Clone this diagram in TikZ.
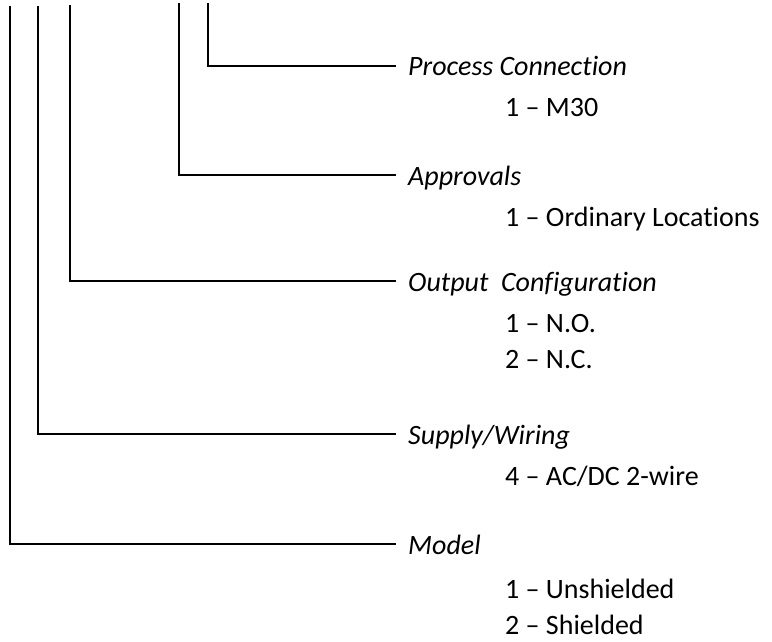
\documentclass[tikz,border=0pt]{standalone}
\usepackage{fontspec}
\setmainfont{Carlito}[Ligatures=NoCommon]
\begin{document}
\begin{tikzpicture}[x=1pt,y=-1pt,
  lead/.style={line width=1.6pt},
  head/.style={anchor=west, inner xsep=12pt, inner ysep=0pt,
    text height=20pt, text depth=0pt,
    font=\fontsize{28}{34}\selectfont\itshape},
  opt/.style={anchor=base west, inner sep=0pt,
    font=\fontsize{28}{34}\selectfont}]
\useasboundingbox (0,0) rectangle (772,642);

% header labels (west anchor sits on the leader line)
\node[head] (pc) at (396,66)  {Process Connection};
\node[head] (ap) at (396,175) {Approvals};
\node[head] (oc) at (396,281) {Output\ \ Configuration};
\node[head] (sw) at (396,434) {Supply/Wiring};
\node[head] (md) at (396,544) {Model};

% option lists
\node[opt] (pc1) at (505,117) {1 – M30};
\node[opt] (ap1) at (505,226) {1 – Ordinary Locations};
\node[opt] (oc1) at (505,332) {1 – N.O.};
\node[opt] (oc2) at (505,368) {2 – N.C.};
\node[opt] (sw1) at (505,485) {4 – AC/DC 2-wire};
\node[opt] (md1) at (505,598) {1 – Unshielded};
\node[opt] (md2) at (505,634) {2 – Shielded};

% free upper ends of the leaders
\coordinate (tmd) at (10,6);
\coordinate (tsw) at (38,6);
\coordinate (toc) at (70,5);
\coordinate (tap) at (179,3);
\coordinate (tpc) at (208,3);

\draw[lead] (tpc) |- (pc.west);
\draw[lead] (tap) |- (ap.west);
\draw[lead] (toc) |- (oc.west);
\draw[lead] (tsw) |- (sw.west);
\draw[lead] (tmd) |- (md.west);
\end{tikzpicture}
\end{document}
